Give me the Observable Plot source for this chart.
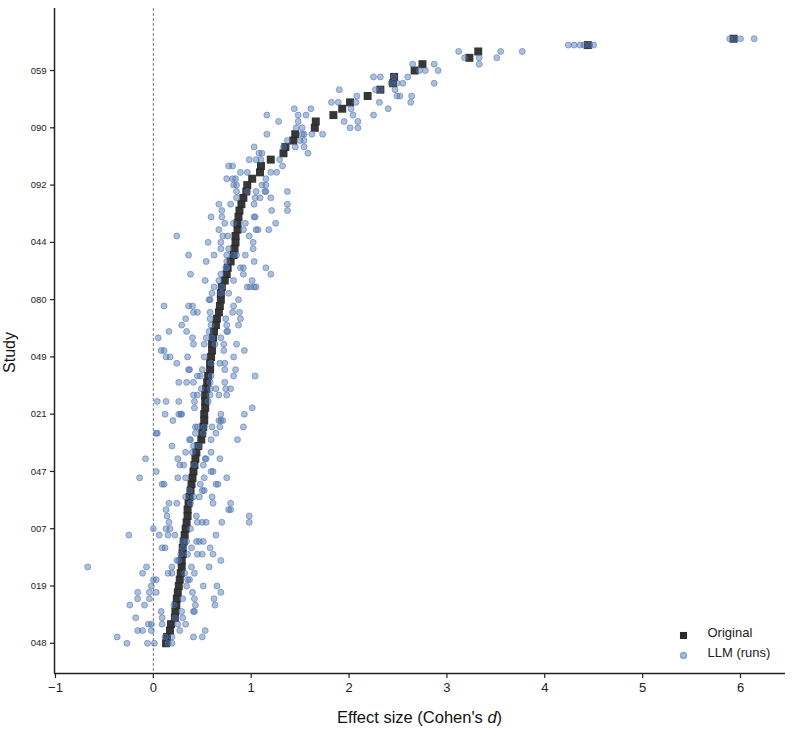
<!DOCTYPE html>
<html>
<head>
<meta charset="utf-8">
<script src="https://cdn.jsdelivr.net/npm/d3@7"></script>
<script src="https://cdn.jsdelivr.net/npm/@observablehq/plot@0.6"></script>
<style>
  html, body { margin: 0; padding: 0; background: #fff; }
  #chart { width: 800px; height: 734px; }
</style>
</head>
<body>
<div id="chart"></div>
<script>
// Study rows are ranked by original effect size (row 0 = smallest, bottom).
const studyTickRows = [0, 9, 18, 27, 36, 45, 54, 63, 72, 81, 90];
const studyTickLabels = ["048", "019", "007", "047", "021", "049", "080", "044", "092", "090", "059"];
const xTicks = [-1, 0, 1, 2, 3, 4, 5, 6];

// Original effect size per study (Cohen's d), rows 0..95
const original = [
  0.13, 0.14, 0.17, 0.18, 0.22, 0.225, 0.235, 0.24, 0.25, 0.26,
  0.27, 0.28, 0.29, 0.29, 0.30, 0.30, 0.31, 0.32, 0.33, 0.34,
  0.35, 0.35, 0.36, 0.37, 0.38, 0.39, 0.40, 0.41, 0.42, 0.43,
  0.44, 0.46, 0.49, 0.50, 0.51, 0.52, 0.52, 0.53, 0.53, 0.53,
  0.54, 0.55, 0.56, 0.58, 0.58, 0.59, 0.60, 0.60, 0.61, 0.62,
  0.64, 0.65, 0.67, 0.68, 0.69, 0.69, 0.70, 0.73, 0.75, 0.76,
  0.79, 0.82, 0.83, 0.84, 0.84, 0.86, 0.86, 0.87, 0.88, 0.90,
  0.92, 0.95, 0.96, 1.01, 1.09, 1.10, 1.20, 1.33, 1.35, 1.43,
  1.45, 1.65, 1.66, 1.84, 1.93, 2.01, 2.19, 2.32, 2.45, 2.46,
  2.67, 2.75, 3.23, 3.32, 4.44, 5.93
];

// LLM replication runs per study (Cohen's d), rows 0..95
const llmRuns = [
  [-0.27, -0.06, 0.01, 0.15, 0.19],
  [-0.37, 0.12, 0.19, 0.41, 0.50],
  [-0.16, -0.11, -0.02, 0.27, 0.53],
  [-0.05, -0.02, 0.09, 0.25, 0.33],
  [-0.18, 0.09, 0.22, 0.30],
  [0.08, 0.29, 0.41, 0.42],
  [-0.24, -0.09, 0.21, 0.43, 0.63],
  [-0.16, -0.04, 0.30, 0.42, 0.62],
  [-0.16, -0.04, 0.03, 0.40, 0.69],
  [-0.02, 0.34, 0.51, 0.65],
  [0.00, 0.03, 0.35, 0.37],
  [-0.11, 0.15, 0.19, 0.32, 0.42],
  [-0.67, -0.07, 0.19, 0.39, 0.57],
  [0.24, 0.26, 0.69],
  [0.28, 0.35, 0.45, 0.50, 0.61],
  [0.09, 0.12, 0.30, 0.39, 0.58],
  [0.30, 0.34, 0.44, 0.47, 0.51],
  [-0.25, 0.06, 0.15, 0.22, 0.64],
  [0.00, 0.13, 0.17, 0.38],
  [0.16, 0.45, 0.50, 0.54, 0.70, 0.98],
  [0.14, 0.44, 0.98],
  [0.13, 0.77, 0.79],
  [0.16, 0.24, 0.38, 0.61, 0.79],
  [0.33, 0.41, 0.47, 0.60],
  [0.37, 0.50, 0.52],
  [0.09, 0.11, 0.48, 0.64, 0.66],
  [-0.14, 0.25, 0.33, 0.52, 0.75],
  [0.03, 0.59, 0.61],
  [0.27, 0.31, 0.42, 0.51],
  [-0.08, 0.25, 0.53, 0.54, 0.68],
  [0.33, 0.40, 0.59],
  [0.19, 0.41, 0.47],
  [0.37, 0.38, 0.59, 0.86],
  [0.03, 0.04, 0.43, 0.51, 0.64],
  [0.43, 0.45, 0.52, 0.60, 0.68, 0.92],
  [0.20, 0.67, 0.69, 0.71],
  [0.12, 0.26, 0.28, 0.29, 0.69, 0.93],
  [0.42, 1.01],
  [0.04, 0.13, 0.26, 0.42, 0.56],
  [0.41, 0.45, 0.58, 0.67, 0.75],
  [0.49, 0.58, 0.64, 0.74, 0.79],
  [0.26, 0.34, 0.41, 0.58, 0.73],
  [0.45, 0.48, 0.59, 0.82, 1.04],
  [0.36, 0.37, 0.50, 0.73, 0.84],
  [0.24, 0.59, 0.68, 0.73],
  [0.13, 0.17, 0.35, 0.52, 0.82],
  [0.08, 0.11, 0.72, 0.93],
  [0.41, 0.52, 0.63, 0.72, 0.85],
  [0.05, 0.40, 0.54, 0.60, 0.69],
  [0.16, 0.34, 0.57, 0.75, 0.76],
  [0.29, 0.59, 0.75, 0.87],
  [0.33, 0.58, 0.74, 0.89],
  [0.41, 0.45, 0.58, 0.81, 0.88],
  [0.11, 0.36, 0.40, 0.82],
  [0.57, 0.58, 0.87],
  [0.60, 0.69, 0.77],
  [0.62, 0.70, 0.96, 0.99, 1.03, 1.05],
  [0.53, 0.67, 0.82, 1.01],
  [0.38, 0.69, 0.92, 1.20],
  [0.74, 0.75, 0.89, 0.92, 1.15],
  [0.54, 0.75, 1.03],
  [0.36, 0.62, 0.75, 0.82, 0.85, 0.94],
  [0.69, 0.77, 1.02],
  [0.56, 0.69, 1.02],
  [0.24, 0.71, 0.76, 0.98],
  [0.67, 0.92, 1.05, 1.07, 1.18],
  [0.73, 0.82, 0.94, 1.25],
  [0.59, 0.70, 1.03, 1.04],
  [0.70, 1.21, 1.37],
  [0.67, 0.79, 1.03, 1.37],
  [0.85, 1.04, 1.09, 1.20],
  [0.85, 0.96, 1.05, 1.14, 1.15, 1.37],
  [0.82, 0.85, 1.11, 1.15],
  [0.75, 0.81, 0.84, 1.15],
  [0.89, 0.96, 1.20, 1.26],
  [0.77, 0.81, 1.32],
  [0.98, 1.05, 1.10, 1.29],
  [1.08, 1.11, 1.58],
  [1.03, 1.33, 1.45, 1.54],
  [1.37, 1.50, 1.54],
  [1.16, 1.52, 1.54, 1.62, 1.73],
  [1.46, 1.52, 2.01, 2.09],
  [1.28, 1.48, 1.95, 2.09],
  [1.16, 1.48, 1.56, 2.04, 2.25],
  [1.44, 1.61, 2.02, 2.40],
  [1.82, 1.89, 2.07, 2.31, 2.63],
  [2.08, 2.49, 2.52, 2.64],
  [1.90, 2.27, 2.32, 2.47],
  [2.43, 2.49, 2.55, 2.87],
  [2.25, 2.32, 2.46, 2.60],
  [2.72, 2.78, 2.91],
  [2.65, 2.87, 3.33],
  [3.18, 3.33, 3.51],
  [3.12, 3.55, 3.77],
  [4.24, 4.30, 4.36, 4.40, 4.46, 4.50],
  [5.89, 5.94, 6.00, 6.14]
];

const legendLabels = ["Original", "LLM (runs)"];

// Build tables
const origData = original.map((d, i) => ({row: i, d}));
const llmData = llmRuns.flatMap((runs, i) => runs.map(d => ({row: i, d})));
const tickLabelOf = new Map(studyTickRows.map((r, k) => [r, studyTickLabels[k]]));

const FONT = "'Liberation Sans', Arial, Helvetica, sans-serif";
const darkSq = "#2b2b2b";
const blue = "#4C72B0";

const chart = Plot.plot({
  width: 800,
  height: 734,
  marginLeft: 54,
  marginRight: 15,
  marginTop: 8,
  marginBottom: 61,
  style: {fontFamily: FONT, background: "white", color: "#222"},
  x: {domain: [-1.01, 6.46]},
  y: {domain: [-4.75, 99.75]},
  marks: [
    Plot.ruleX([0], {stroke: "#555", strokeWidth: 0.8, strokeDasharray: "3,2"}),
    Plot.dot(origData, {x: "d", y: "row", symbol: "square", r: 4.5, fill: darkSq, fillOpacity: 0.95, stroke: "none"}),
    Plot.dot(llmData, {x: "d", y: "row", r: 3, fill: blue, fillOpacity: 0.45, stroke: blue, strokeOpacity: 0.55, strokeWidth: 1}),
    Plot.axisX({ticks: xTicks, tickSize: 5, tickPadding: 4, fontSize: 13, label: null, stroke: "#222", strokeWidth: 1.2}),
    Plot.axisY({ticks: studyTickRows, tickFormat: r => tickLabelOf.get(r), tickSize: 4, tickPadding: 4, fontSize: 9.5, label: null, stroke: "#222", strokeWidth: 1.2}),
    Plot.ruleX([-1.01], {stroke: "#222", strokeWidth: 1.5}),
    Plot.ruleY([-4.75], {stroke: "#222", strokeWidth: 1.5}),
    // legend
    Plot.dot([legendLabels[0]], {frameAnchor: "bottom-right", dx: -102, dy: -38, symbol: "square", r: 4, fill: darkSq}),
    Plot.dot([legendLabels[1]], {frameAnchor: "bottom-right", dx: -102, dy: -18, r: 3, fill: blue, fillOpacity: 0.45, stroke: blue, strokeOpacity: 0.55}),
    Plot.text([legendLabels[0]], {text: d => d, frameAnchor: "bottom-right", dx: -78, dy: -37, textAnchor: "start", fontSize: 13, fill: "#222"}),
    Plot.text([legendLabels[1]], {text: d => d, frameAnchor: "bottom-right", dx: -78, dy: -17, textAnchor: "start", fontSize: 13, fill: "#222"})
  ]
});

document.getElementById("chart").appendChild(chart);

// Axis titles (x label has an italic "d")
const svg = d3.select(chart);
const xl = svg.append("text")
  .attr("x", (54 + 785) / 2).attr("y", 723)
  .attr("text-anchor", "middle")
  .attr("font-family", FONT).attr("font-size", 16.5).attr("fill", "#111");
xl.append("tspan").text("Effect size (Cohen's ");
xl.append("tspan").attr("font-style", "italic").text("d");
xl.append("tspan").text(")");

svg.append("text")
  .attr("transform", `translate(15, ${(8 + 673) / 2 + 12}) rotate(-90)`)
  .attr("text-anchor", "middle")
  .attr("font-family", FONT).attr("font-size", 16).attr("fill", "#111")
  .text("Study");
</script>
</body>
</html>
